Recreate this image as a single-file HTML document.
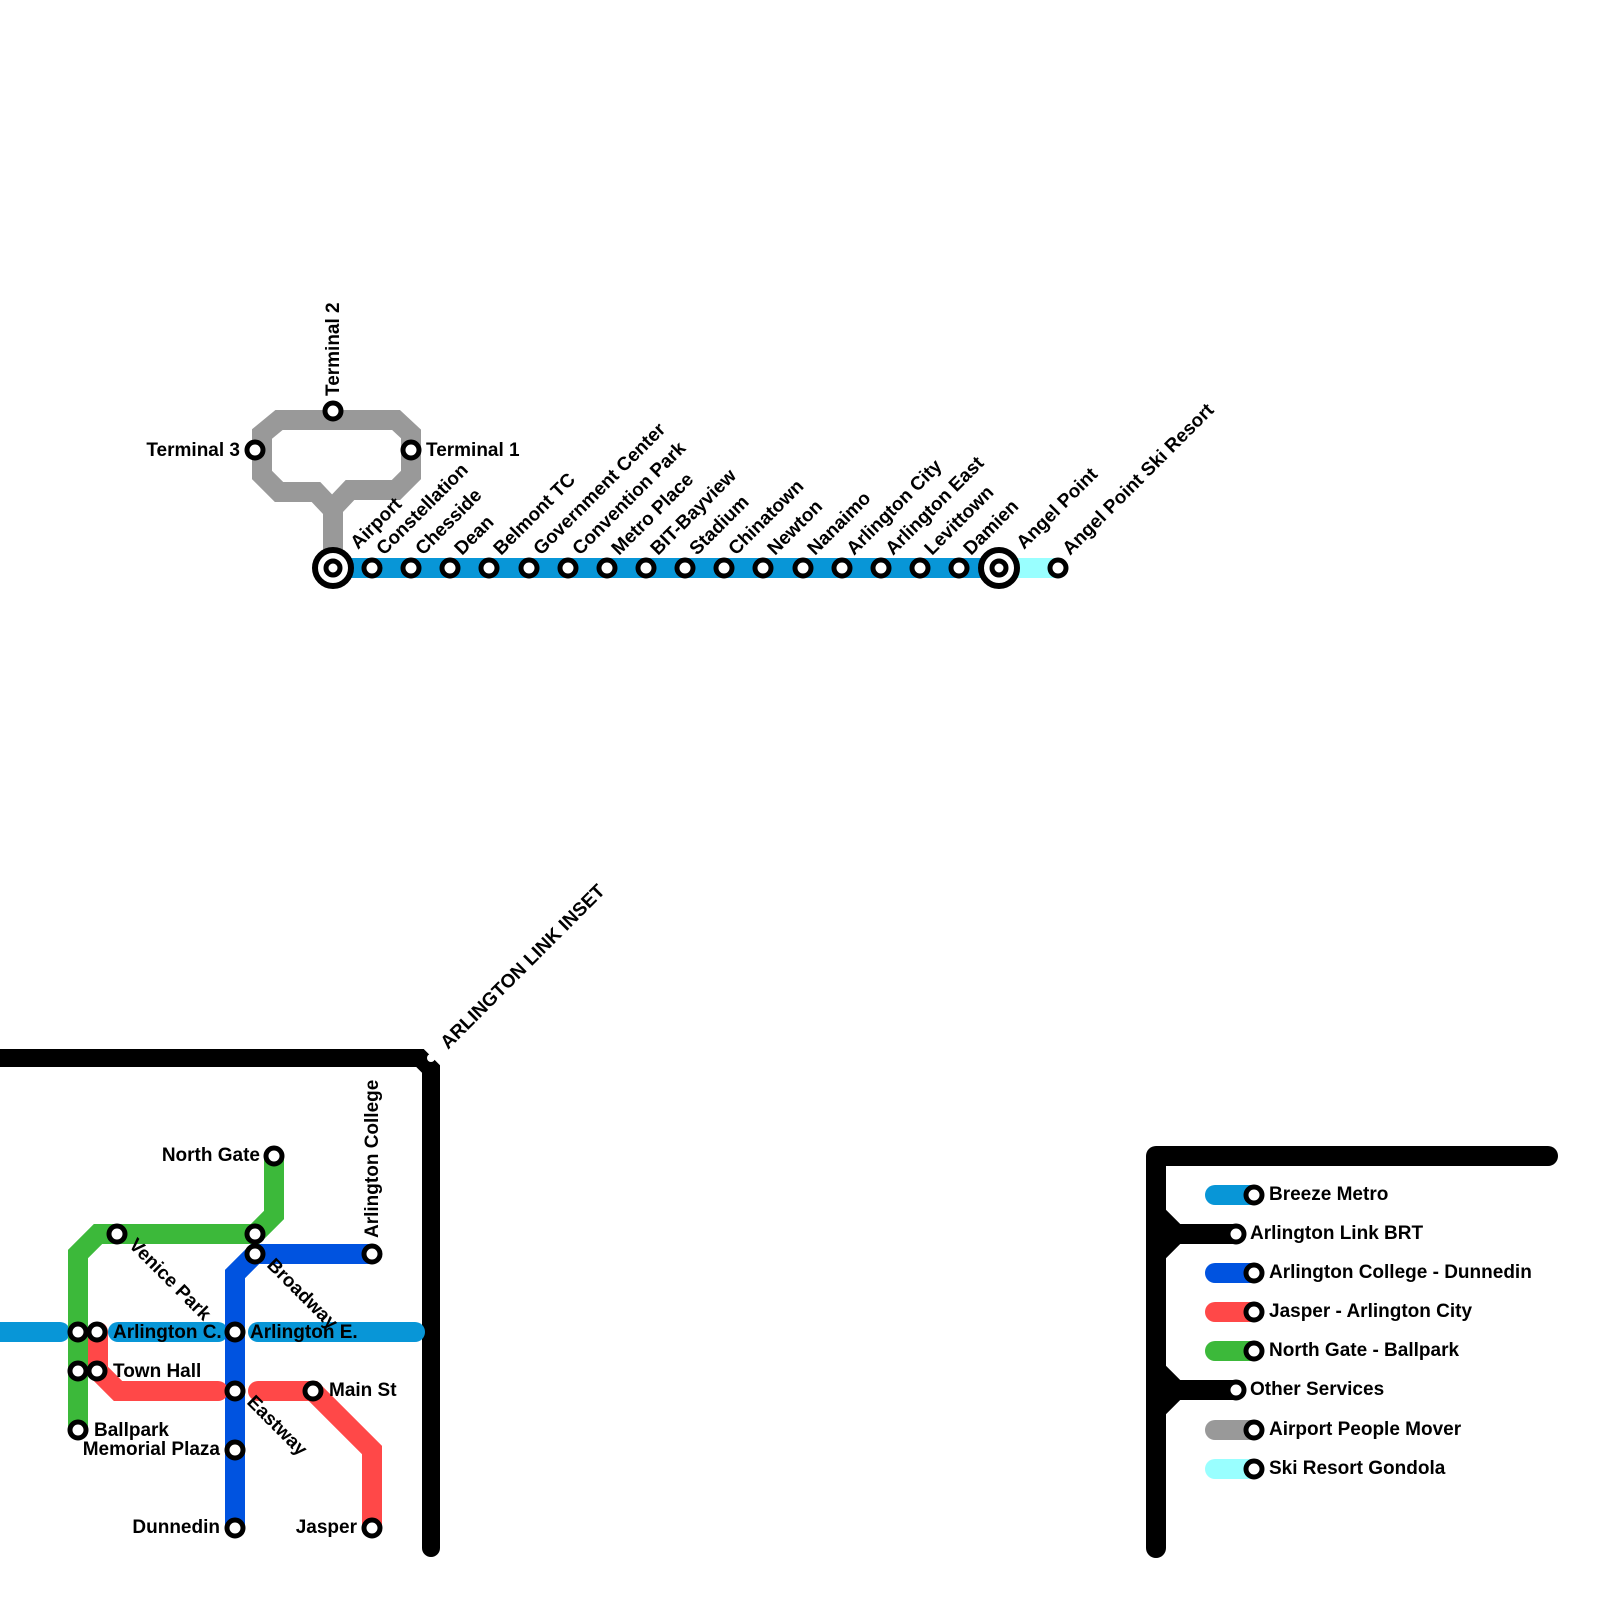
<!DOCTYPE html>
<html><head><meta charset="utf-8"><style>
html,body{margin:0;padding:0;background:#fff}
svg{display:block}
text{font-family:"Liberation Sans",Arial,sans-serif;font-weight:bold;font-size:19px;fill:#000}
.st{fill:#fff;stroke:#000;stroke-width:5}
</style></head><body>
<svg width="1600" height="1600" viewBox="0 0 1600 1600" xmlns="http://www.w3.org/2000/svg">
<path d="M333,568 V510 L316,492 H279 L262,475 V434 L279,420 H396 L411,434 V475 L396,490 H350 L333,508" fill="none" stroke="#999" stroke-width="20" stroke-linejoin="miter"/>
<line x1="999" y1="568" x2="1058" y2="568" stroke="#9ff" stroke-width="20"/>
<line x1="333" y1="568" x2="999" y2="568" stroke="#0896d7" stroke-width="20"/>
<g class="st">
<circle cx="255" cy="450" r="8"/><circle cx="333" cy="411" r="8"/><circle cx="411" cy="450" r="8"/>
<circle cx="372" cy="568" r="8"/><circle cx="411" cy="568" r="8"/><circle cx="450" cy="568" r="8"/><circle cx="489" cy="568" r="8"/><circle cx="529" cy="568" r="8"/><circle cx="568" cy="568" r="8"/><circle cx="607" cy="568" r="8"/><circle cx="646" cy="568" r="8"/><circle cx="685" cy="568" r="8"/><circle cx="724" cy="568" r="8"/><circle cx="763" cy="568" r="8"/><circle cx="803" cy="568" r="8"/><circle cx="842" cy="568" r="8"/><circle cx="881" cy="568" r="8"/><circle cx="920" cy="568" r="8"/><circle cx="959" cy="568" r="8"/><circle cx="1058" cy="568" r="8"/>
<circle cx="333" cy="568" r="18" stroke-width="6"/><circle cx="333" cy="568" r="7"/>
<circle cx="999" cy="568" r="18" stroke-width="6"/><circle cx="999" cy="568" r="7"/>
</g>
<text x="240" y="456" text-anchor="end">Terminal 3</text>
<text x="426" y="456">Terminal 1</text>
<text transform="translate(339,396) rotate(-90)">Terminal 2</text>
<g>
<text transform="translate(358,550) rotate(-45)">Airport</text>
<text transform="translate(384,556) rotate(-45)">Constellation</text>
<text transform="translate(423,556) rotate(-45)">Chesside</text>
<text transform="translate(462,556) rotate(-45)">Dean</text>
<text transform="translate(501,556) rotate(-45)">Belmont TC</text>
<text transform="translate(541,556) rotate(-45)">Government Center</text>
<text transform="translate(580,556) rotate(-45)">Convention Park</text>
<text transform="translate(619,556) rotate(-45)">Metro Place</text>
<text transform="translate(658,556) rotate(-45)">BIT-Bayview</text>
<text transform="translate(697,556) rotate(-45)">Stadium</text>
<text transform="translate(736,556) rotate(-45)">Chinatown</text>
<text transform="translate(775,556) rotate(-45)">Newton</text>
<text transform="translate(815,556) rotate(-45)">Nanaimo</text>
<text transform="translate(854,556) rotate(-45)">Arlington City</text>
<text transform="translate(893,556) rotate(-45)">Arlington East</text>
<text transform="translate(932,556) rotate(-45)">Levittown</text>
<text transform="translate(971,556) rotate(-45)">Damien</text>
<text transform="translate(1024,550) rotate(-45)">Angel Point</text>
<text transform="translate(1070,556) rotate(-45)">Angel Point Ski Resort</text>
</g>
<path d="M0,1058 H420 L431,1069 V1548" fill="none" stroke="#000" stroke-width="18" stroke-linecap="round"/>
<circle cx="431" cy="1058" r="4" fill="#fff"/>
<text transform="translate(448,1050) rotate(-45)">ARLINGTON LINK INSET</text>
<g fill="none" stroke-width="20" stroke-linecap="round" stroke-linejoin="miter">
<line x1="0" y1="1332" x2="60" y2="1332" stroke="#0896d7"/>
<line x1="118" y1="1332" x2="218" y2="1332" stroke="#0896d7"/>
<line x1="258" y1="1332" x2="415" y2="1332" stroke="#0896d7"/>
<path d="M274,1156 V1215 L255,1234 H98 L78,1254 V1430" stroke="#3cb93a" stroke-linecap="butt"/>
<path d="M372,1254 H255 L235,1274 V1528" stroke="#0053e0" stroke-linecap="butt"/>
<path d="M372,1528 V1450 L313,1391 H258" stroke="#ff4848"/>
<path d="M218,1391 H118 L98,1371 V1332" stroke="#ff4848"/>
</g>
<g class="st">
<circle cx="78" cy="1332" r="8"/><circle cx="97" cy="1332" r="8"/><circle cx="78" cy="1371" r="8"/><circle cx="97" cy="1371" r="8"/>
<circle cx="117" cy="1234" r="8"/><circle cx="255" cy="1234" r="8"/><circle cx="255" cy="1254" r="8"/><circle cx="372" cy="1254" r="8"/>
<circle cx="274" cy="1156" r="8"/><circle cx="235" cy="1332" r="8"/><circle cx="235" cy="1391" r="8"/><circle cx="235" cy="1450" r="8"/>
<circle cx="235" cy="1528" r="8"/><circle cx="313" cy="1391" r="8"/><circle cx="372" cy="1528" r="8"/><circle cx="78" cy="1430" r="8"/>
</g>
<text x="260" y="1161" text-anchor="end">North Gate</text>
<text transform="translate(378,1238) rotate(-90)">Arlington College</text>
<text transform="translate(128,1246) rotate(45)">Venice Park</text>
<text transform="translate(266,1266) rotate(45)">Broadway</text>
<text x="113" y="1338">Arlington C.</text>
<text x="250" y="1338">Arlington E.</text>
<text x="113" y="1377">Town Hall</text>
<text x="329" y="1396">Main St</text>
<text transform="translate(246,1403) rotate(45)">Eastway</text>
<text x="94" y="1436">Ballpark</text>
<text x="220" y="1455" text-anchor="end">Memorial Plaza</text>
<text x="220" y="1533" text-anchor="end">Dunnedin</text>
<text x="357" y="1533" text-anchor="end">Jasper</text>
<path d="M1548,1156 H1156 V1548" fill="none" stroke="#000" stroke-width="20" stroke-linecap="round" stroke-linejoin="round"/>
<path d="M1156,1214 L1176,1234 H1236 M1156,1254 L1176,1234 M1156,1370 L1176,1390 H1236 M1156,1410 L1176,1390" stroke="#000" stroke-width="20" fill="none"/>
<g stroke-width="20" stroke-linecap="round">
<line x1="1215" y1="1195" x2="1254" y2="1195" stroke="#0896d7"/>
<line x1="1215" y1="1273" x2="1254" y2="1273" stroke="#0053e0"/>
<line x1="1215" y1="1312" x2="1254" y2="1312" stroke="#ff4848"/>
<line x1="1215" y1="1351" x2="1254" y2="1351" stroke="#3cb93a"/>
<line x1="1215" y1="1430" x2="1254" y2="1430" stroke="#999"/>
<line x1="1215" y1="1469" x2="1254" y2="1469" stroke="#9ff"/>
</g>
<g class="st">
<circle cx="1254" cy="1195" r="8"/><circle cx="1236" cy="1234" r="8"/><circle cx="1254" cy="1273" r="8"/><circle cx="1254" cy="1312" r="8"/><circle cx="1254" cy="1351" r="8"/><circle cx="1236" cy="1390" r="8"/><circle cx="1254" cy="1430" r="8"/><circle cx="1254" cy="1469" r="8"/>
</g>
<text x="1269" y="1200">Breeze Metro</text>
<text x="1250" y="1239">Arlington Link BRT</text>
<text x="1269" y="1278">Arlington College - Dunnedin</text>
<text x="1269" y="1317">Jasper - Arlington City</text>
<text x="1269" y="1356">North Gate - Ballpark</text>
<text x="1250" y="1395">Other Services</text>
<text x="1269" y="1435">Airport People Mover</text>
<text x="1269" y="1474">Ski Resort Gondola</text>
</svg>
</body></html>
